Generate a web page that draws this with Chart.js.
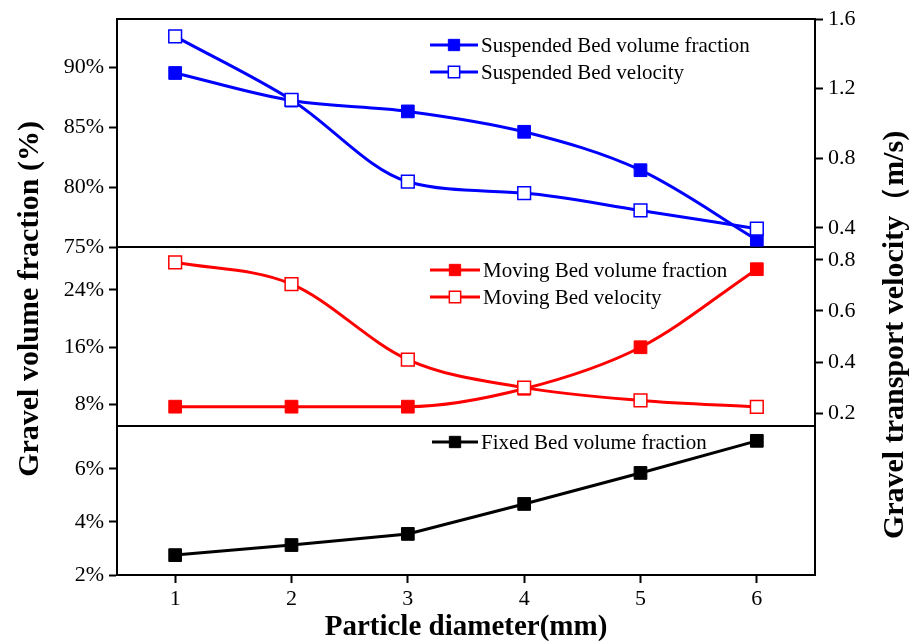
<!DOCTYPE html>
<html lang="en">
<head>
<meta charset="utf-8">
<title>Gravel transport</title>
<style>
  html, body { margin: 0; padding: 0; background: #fff; }
  #wrap { width: 915px; height: 644px; }
</style>
</head>
<body>
<div id="wrap"><canvas id="myChart" width="915" height="644"></canvas></div>

<script src="https://cdn.jsdelivr.net/npm/chart.js@4.4.0/dist/chart.umd.min.js"></script>
<script>
// particle diameter (mm)
const diameters = [1, 2, 3, 4, 5, 6];

// suspended bed
const suspFraction = [89.5, 87.2, 86.3, 84.6, 81.4, 75.6];
const suspVelocity = [1.50, 1.135, 0.665, 0.60, 0.50, 0.395];
// moving bed
const movFraction = [7.7, 7.7, 7.7, 10.2, 16.0, 26.9];
const movVelocity = [0.79, 0.705, 0.41, 0.30, 0.25, 0.225];
// fixed bed
const fixFraction = [2.75, 3.13, 3.55, 4.68, 5.85, 7.06];

// tick labels
const fracTopTicks = [75, 80, 85, 90];
const fracMidTicks = [8, 16, 24];
const fracBotTicks = [2, 4, 6];
const velTopTicks = [0.4, 0.8, 1.2, 1.6];
const velMidTicks = [0.2, 0.4, 0.6, 0.8];
const diameterTicks = [1, 2, 3, 4, 5, 6];

const SERIF = "'Liberation Serif', 'Times New Roman', serif";
const BLUE = '#0000ff', RED = '#ff0000', BLACK = '#000000';

function pts(ys) {
  return diameters.map((d, i) => ({ x: d, y: ys[i] }));
}

function series(label, ys, color, yAxisID, filled, smooth) {
  return {
    label: label,
    data: pts(ys),
    yAxisID: yAxisID,
    borderColor: color,
    backgroundColor: filled ? color : '#ffffff',
    borderWidth: 3,
    pointStyle: 'rect',
    pointRadius: 9,
    pointBorderWidth: filled ? 1 : 1.5,
    pointBorderColor: color,
    pointBackgroundColor: filled ? color : '#ffffff',
    tension: smooth ? 0.4 : 0,
    cubicInterpolationMode: smooth ? 'monotone' : 'default',
    clip: 10
  };
}

// open-square velocity series first so they are painted on top
const datasets = [
  series('Suspended Bed velocity', suspVelocity, BLUE, 'vTop', false, true),
  series('Moving Bed velocity', movVelocity, RED, 'vMid', false, true),
  series('Suspended Bed volume fraction', suspFraction, BLUE, 'yTop', true, true),
  series('Moving Bed volume fraction', movFraction, RED, 'yMid', true, true),
  series('Fixed Bed volume fraction', fixFraction, BLACK, 'yBot', true, false)
];

const tickFont = { family: SERIF, size: 22 };

function yAxis(position, weight, stackWeight, min, max, ticks, fmt) {
  return {
    type: 'linear',
    position: position,
    stack: position,
    stackWeight: stackWeight,
    weight: weight,
    min: min,
    max: max,
    afterBuildTicks: s => { s.ticks = ticks.map(v => ({ value: v })); },
    afterFit: s => { s.width = position === 'left' ? 117 : 100; },
    border: { color: BLACK, width: 2 },
    grid: {
      drawOnChartArea: false,
      drawTicks: ticks.length > 0,
      tickLength: 8,
      tickWidth: 2,
      color: BLACK
    },
    ticks: {
      display: ticks.length > 0,
      color: BLACK,
      font: tickFont,
      padding: 5,
      callback: fmt
    }
  };
}

const pct = v => v + '%';
const dec = v => v.toFixed(1);

// frame around the three panels
const panelFrame = {
  id: 'panelFrame',
  beforeDatasetsDraw(chart) {
    const { ctx, chartArea: a, scales } = chart;
    ctx.save();
    ctx.strokeStyle = BLACK;
    ctx.lineWidth = 2;
    ctx.strokeRect(a.left, a.top, a.right - a.left, a.bottom - a.top);
    ctx.beginPath();
    [scales.yTop.bottom, scales.yMid.bottom].forEach(y => {
      ctx.moveTo(a.left, y);
      ctx.lineTo(a.right, y);
    });
    ctx.stroke();
    ctx.restore();
  }
};

// one small legend inside each panel
const panelLegends = {
  id: 'panelLegends',
  afterDatasetsDraw(chart, args, opts) {
    const { ctx, chartArea: a, scales } = chart;
    ctx.save();
    opts.groups.forEach(g => {
      const top = scales[g.scale].top;
      g.items.forEach((idx, k) => {
        const ds = chart.data.datasets[idx];
        const x0 = a.left + g.x;
        const y = top + g.y + k * g.gap;
        ctx.strokeStyle = ds.borderColor;
        ctx.lineWidth = ds.borderWidth;
        ctx.beginPath();
        ctx.moveTo(x0, y);
        ctx.lineTo(x0 + g.len, y);
        ctx.stroke();
        ctx.fillStyle = ds.pointBackgroundColor;
        ctx.strokeStyle = ds.pointBorderColor;
        ctx.lineWidth = ds.pointBorderWidth;
        Chart.helpers.drawPoint(ctx, { pointStyle: 'rect', radius: 8, rotation: 0, borderWidth: ds.pointBorderWidth }, x0 + g.len / 2, y);
        ctx.fillStyle = BLACK;
        ctx.font = '21px ' + SERIF;
        ctx.textBaseline = 'middle';
        ctx.textAlign = 'left';
        ctx.fillText(ds.label, x0 + g.len + 3, y + 1);
      });
    });
    ctx.restore();
  }
};

// rotated axis titles on both sides
const sideTitles = {
  id: 'sideTitles',
  afterDraw(chart, args, opts) {
    const { ctx } = chart;
    ctx.save();
    ctx.fillStyle = BLACK;
    ctx.font = 'bold 30px ' + SERIF;
    ctx.textAlign = 'center';
    ctx.textBaseline = 'middle';
    opts.items.forEach(t => {
      ctx.save();
      ctx.translate(t.x, t.y);
      ctx.rotate(-Math.PI / 2);
      ctx.fillText(t.text, 0, 0);
      ctx.restore();
    });
    ctx.restore();
  }
};

new Chart(document.getElementById('myChart'), {
  type: 'line',
  data: { datasets: datasets },
  options: {
    responsive: false,
    animation: false,
    devicePixelRatio: 1,
    layout: { padding: { top: 19, left: 0, right: 0, bottom: 0 } },
    scales: {
      x: {
        type: 'linear',
        min: 0.5,
        max: 6.5,
        afterBuildTicks: s => { s.ticks = diameterTicks.map(v => ({ value: v })); },
        afterFit: s => { s.height = 69; },
        border: { color: BLACK, width: 2 },
        grid: { drawOnChartArea: false, tickLength: 8, tickWidth: 2, color: BLACK },
        ticks: { color: BLACK, font: tickFont, padding: 3, maxRotation: 0 },
        title: {
          display: true,
          text: 'Particle diameter(mm)',
          color: BLACK,
          font: { family: SERIF, size: 29, weight: 'bold', lineHeight: 1 },
          padding: { top: 0, bottom: 2 }
        }
      },
      yTop: yAxis('left', 3, 228, 75, 94, fracTopTicks, pct),
      yMid: yAxis('left', 2, 179, 5, 30, fracMidTicks, pct),
      yBot: yAxis('left', 1, 149, 2, 7.62, fracBotTicks, pct),
      vTop: yAxis('right', 1, 228, 0.29, 1.6, velTopTicks, dec),
      vMid: yAxis('right', 2, 179, 0.15, 0.85, velMidTicks, dec),
      vBot: yAxis('right', 3, 149, 0, 1, [], dec)
    },
    plugins: {
      legend: { display: false },
      tooltip: { enabled: false },
      panelLegends: {
        groups: [
          { scale: 'yTop', items: [2, 0], x: 313, y: 26, gap: 27, len: 48 },
          { scale: 'yMid', items: [3, 1], x: 313, y: 23, gap: 27, len: 50 },
          { scale: 'yBot', items: [4], x: 315, y: 16, gap: 27, len: 46 }
        ]
      },
      sideTitles: {
        items: [
          { text: 'Gravel volume fraction (%)', x: 30, y: 299 },
          { text: 'Gravel transport velocity（m/s)', x: 895, y: 335 }
        ]
      }
    }
  },
  plugins: [panelFrame, panelLegends, sideTitles]
});
</script>
</body>
</html>
